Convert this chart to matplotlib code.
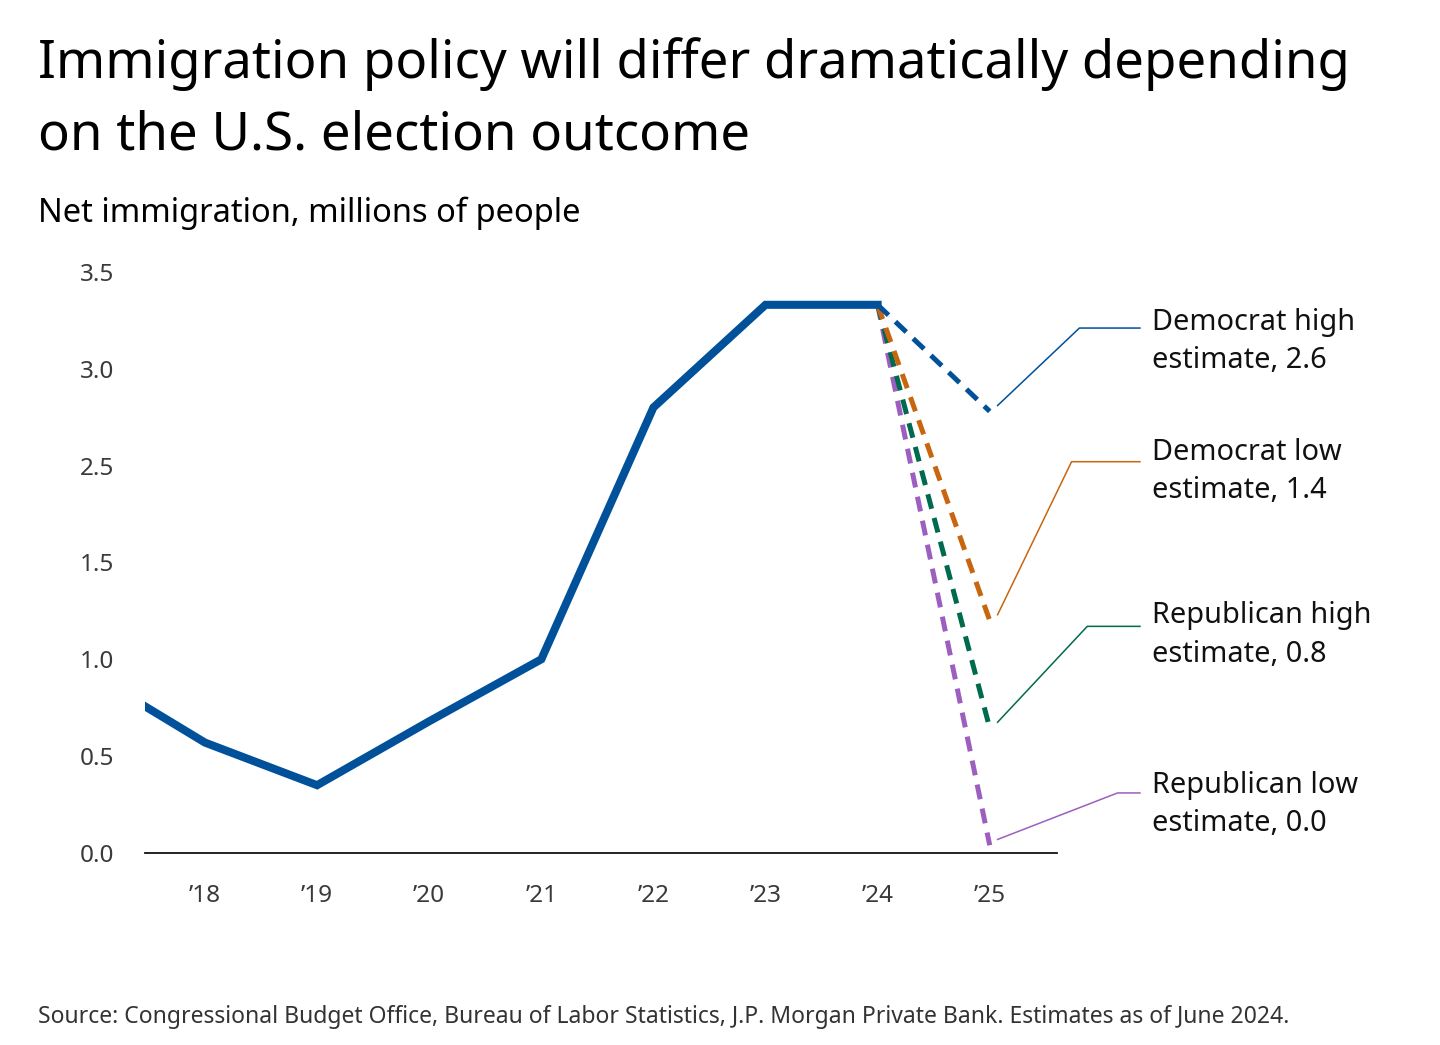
import matplotlib
matplotlib.use("Agg")
import matplotlib.pyplot as plt

plt.rcParams['font.family'] = ['Noto Sans', 'DejaVu Sans']

# net immigration, millions (plotted positions)
years = [2017, 2018, 2019, 2020, 2021, 2022, 2023, 2024]
net_immigration = [0.92, 0.57, 0.35, 0.68, 1.0, 2.30, 2.83, 2.83]

# 2025 scenarios
scenario_names = ["Democrat high\nestimate, 2.6", "Democrat low\nestimate, 1.4",
                  "Republican high\nestimate, 0.8", "Republican low\nestimate, 0.0"]
scenario_2025 = [2.28, 1.20, 0.645, 0.04]
scenario_colors = ['#00509a', '#c8660f', '#006a4e', '#9c5fbf']
label_y = [2.64, 1.97, 1.125, 0.25]      # where the labels sit
elbow_y = [2.71, 2.02, 1.17, 0.31]

ytick_pos = [0, 0.5, 1.0, 1.5, 2.0, 2.5, 3.0]
ytick_labels = ['0.0', '0.5', '1.0', '1.5', '2.5', '3.0', '3.5']
xtick_years = [2018, 2019, 2020, 2021, 2022, 2023, 2024, 2025]
xtick_labels = ['\u201918', '\u201919', '\u201920', '\u201921', '\u201922', '\u201923', '\u201924', '\u201925']

fig = plt.figure(figsize=(14.4, 10.45), dpi=100)
ax = fig.add_axes([145/1440, 192/1045, 912/1440, 600.5/1045])

# dashed scenarios, drawn back to front
for i in [3, 2, 1, 0]:
    ax.plot([2024, 2025], [net_immigration[-1], scenario_2025[i]], color=scenario_colors[i],
            lw=3.6, dashes=(3.0, 1.9), dash_capstyle='butt')

ax.plot(years, net_immigration, color='#00509a', lw=5.8, solid_joinstyle='miter')

# leader lines + labels
for i in range(4):
    x0 = 2025 + 0.07
    y0 = scenario_2025[i] + 0.03
    xe = 2025 + [0.80, 0.73, 0.87, 1.14][i]
    ax.plot([x0, xe, 2026.34], [y0, elbow_y[i], elbow_y[i]], color=scenario_colors[i],
            lw=1.1, clip_on=False)
    ax.text(2026.45, label_y[i], scenario_names[i], fontsize=20.8, color='#111111',
            va='center', ha='left', linespacing=1.42)

ax.set_xlim(2017.465, 2025.6)
ax.set_ylim(0, 3.1)
ax.set_yticks(ytick_pos)
ax.set_yticklabels(ytick_labels)
ax.set_xticks(xtick_years)
ax.set_xticklabels(xtick_labels)
ax.tick_params(axis='both', length=0, labelsize=17.5, labelcolor='#3a3a3a')
ax.tick_params(axis='y', pad=22)
ax.tick_params(axis='x', pad=22)
for s in ['top', 'right', 'left']:
    ax.spines[s].set_visible(False)
ax.spines['bottom'].set_linewidth(1.3)
ax.spines['bottom'].set_color('#111111')

fig.text(38/1440, 1 - 78/1045, "Immigration policy will differ dramatically depending",
         fontsize=38, color='black', va='baseline')
fig.text(38/1440, 1 - 150/1045, "on the U.S. election outcome",
         fontsize=38, color='black', va='baseline')
fig.text(38/1440, 1 - 222/1045, "Net immigration, millions of people",
         fontsize=23.5, color='black', va='baseline')
fig.text(38/1440, 1 - 1023/1045,
         "Source: Congressional Budget Office, Bureau of Labor Statistics, J.P. Morgan Private Bank. "
         "Estimates as of June 2024.", fontsize=16.5, color='#333333', va='baseline')

plt.savefig('out.png', dpi=100)
